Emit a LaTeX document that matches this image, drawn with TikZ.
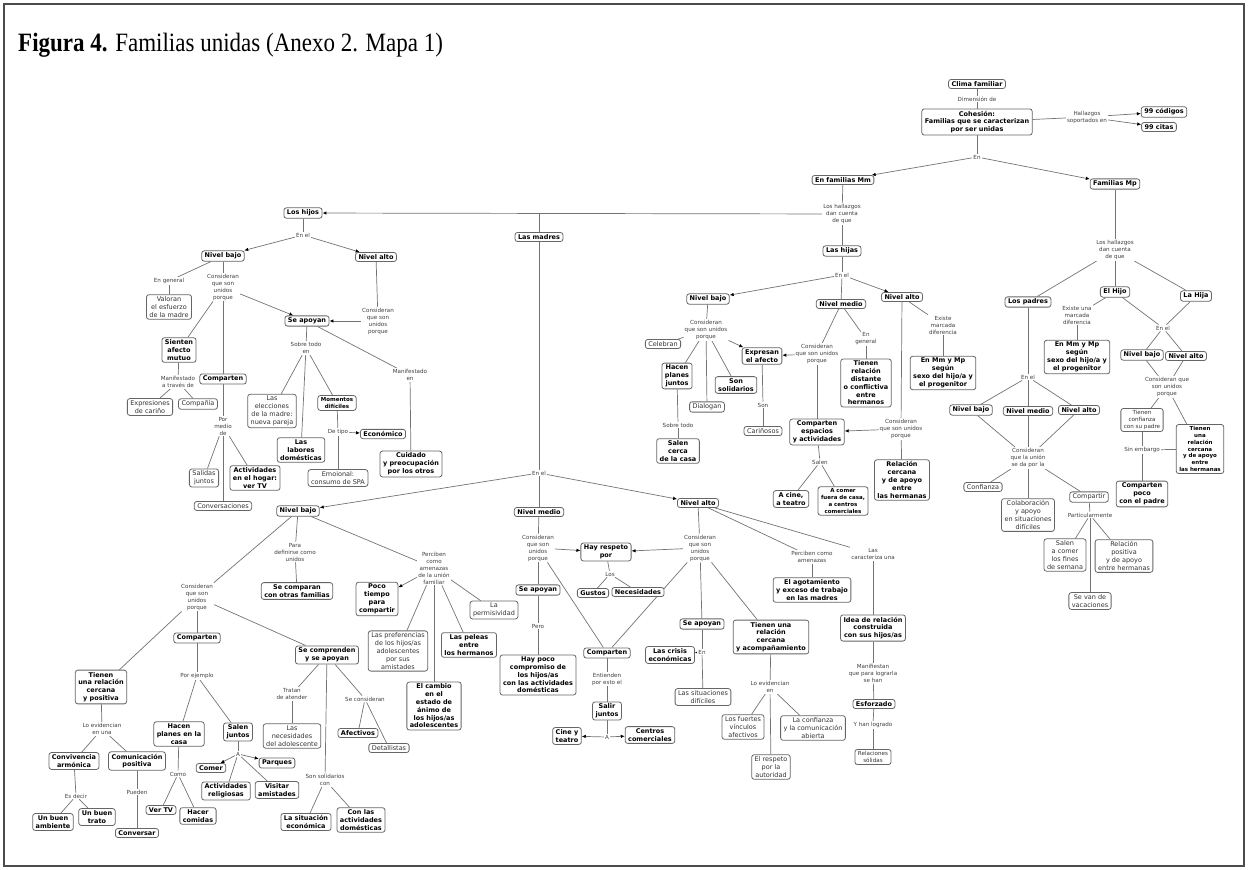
\documentclass[tikz,border=0pt]{standalone}
\usepackage{fontspec}
\setmainfont{DejaVu Sans}
\newfontfamily\titlefont{Liberation Serif}
\usetikzlibrary{arrows.meta,backgrounds}

\tikzset{
  cb/.style={draw=black!60, line width=0.8pt, rounded corners=2.5pt, fill=white, align=center,
    inner xsep=3pt, inner ysep=2pt, font=\fontsize{6.5}{7.8}\selectfont\bfseries},
  cbs/.style={cb, font=\fontsize{5.5}{6.8}\selectfont\bfseries},
  pb/.style={cb, text=black!80, font=\fontsize{6.5}{7.8}\selectfont},
  pbs/.style={pb, font=\fontsize{5.6}{6.8}\selectfont},
  lk/.style={align=center, inner sep=1pt, fill=white, text=black!75, font=\fontsize{5.6}{7}\selectfont},
  ln/.style={draw=black!55, line width=0.7pt},
  ar/.style={ln, -{Latex[length=4pt,width=3.5pt,black]}}
}

\begin{document}
\begin{tikzpicture}[x=1pt,y=-1pt]
\useasboundingbox (0,0) rectangle (1248,870);
\draw[black!70, line width=1.5pt] (4,4) rectangle (1244,866);
\node[anchor=base west, inner sep=0, font=\titlefont\fontsize{23}{26}\selectfont] (titulo) at (18,51)
  {\scalebox{1}[1.15]{\textbf{Figura 4.} Familias unidas (Anexo 2. Mapa 1)}};

\node[cb] (clima) at (977,84) {Clima familiar};
\node[lk] (ldim) at (977,99) {Dimensión de};
\node[cb] (cohesion) at (977,122) {Cohesión:\\Familias que se caracterizan\\por ser unidas};
\node[lk] (lhall) at (1087,117) {Hallazgos\\soportados en};
\node[cb] (codigos) at (1164,112) {99 códigos};
\node[cb] (citas) at (1159,127) {99 citas};
\node[lk] (len) at (977,157) {En};
\node[cb] (famMm) at (843,180) {En familias Mm};
\node[cb] (famMp) at (1115,184) {Familias Mp};

\node[lk] (lmmh) at (842,214) {Los hallazgos\\dan cuenta\\de que};
\coordinate (jmad) at (539,214);
\node[cb] (hijos) at (303,213) {Los hijos};
\node[cb] (madres) at (539,237) {Las madres};
\node[cb] (hijas) at (842,251) {Las hijas};

\node[lk] (lhen) at (303,235) {En el};
\node[cb] (hnb) at (223,256) {Nivel bajo};
\node[cb] (hna) at (376,257) {Nivel alto};
\node[lk] (lgen) at (169,281) {En general};
\node[pb] (valoran) at (169,307) {Valoran\\el esfuerzo\\de la madre};
\node[lk] (lhcons) at (223,287) {Consideran\\que son\\unidos\\porque};
\node[cb] (hapoyan) at (307,321) {Se apoyan};
\node[lk] (lhacons) at (378,321) {Consideran\\que son\\unidos\\porque};
\node[cb] (sienten) at (179,350) {Sienten\\afecto\\mutuo};
\node[lk] (lmanif) at (178,382) {Manifestado\\a través de};
\node[pb] (expres) at (150,407) {Expresiones\\de cariño};
\node[pb] (compania) at (198,404) {Compañía};
\node[cb] (comp1) at (223,379) {Comparten};
\node[lk] (lpormedio) at (223,426) {Por\\medio\\de};
\node[pb] (salidas) at (204,478) {Salidas\\juntos};
\node[cb] (activ) at (255,478) {Actividades\\en el hogar:\\ver TV};
\node[pb] (convers) at (223,506) {Conversaciones};
\node[lk] (lsobre) at (306,348) {Sobre todo\\en};
\node[pb] (elecc) at (272,411) {Las\\elecciones\\de la madre:\\nueva pareja};
\node[cb] (labores) at (301,450) {Las\\labores\\domésticas};
\node[cbs] (momentos) at (337,403) {Momentos\\difíciles};
\node[lk] (ldetipo) at (338,432) {De tipo};
\node[cb] (economico) at (383,434) {Económico};
\node[pb] (emoc) at (338,478) {Emoional:\\consumo de SPA};
\node[lk] (lmanifen) at (410,375) {Manifestado\\en};
\node[cb] (cuidado) at (411,464) {Cuidado\\y preocupación\\por los otros};

\node[lk] (lmen) at (539,473) {En el};
\node[cb] (mnb) at (298,511) {Nivel bajo};
\node[cb] (mnm) at (539,512) {Nivel medio};
\node[cb] (mna) at (698,503) {Nivel alto};

\node[lk] (lpara) at (295,552) {Para\\definirse como\\unidos};
\node[cb] (secomparan) at (297,591) {Se comparan\\con otras familias};
\node[lk] (lperc) at (434,568) {Perciben\\como\\amenazas\\de la unión\\familiar};
\node[cb] (poco) at (377,599) {Poco\\tiempo\\para\\compartir};
\node[pb] (prefer) at (398,651) {Las preferencias\\de los hijos/as\\adolescentes\\por sus\\amistades};
\node[cb] (cambio) at (434,706) {El cambio\\en el\\estado de\\ánimo de\\los hijos/as\\adolescentes};
\node[cb] (peleas) at (469,645) {Las peleas\\entre\\los hermanos};
\node[pb] (permis) at (494,610) {La\\permisividad};
\node[lk] (lmbcons) at (197,597) {Consideran\\que son\\unidos\\porque};
\node[cb] (comp2) at (197,638) {Comparten};
\node[lk] (lporej) at (197,676) {Por ejemplo};
\node[cb] (hacen) at (179,734) {Hacen\\planes en la\\casa};
\node[cb] (salen) at (238,732) {Salen\\juntos};
\node[lk] (lcomo) at (178,774) {Como};
\node[cb] (vertv) at (161,810) {Ver TV};
\node[cb] (hacercom) at (198,816) {Hacer\\comidas};
\node[lk] (la1) at (238,754) {A};
\node[cb] (comer) at (211,768) {Comer};
\node[cb] (parques) at (277,763) {Parques};
\node[cb] (religiosas) at (226,791) {Actividades\\religiosas};
\node[cb] (visitar) at (277,790) {Visitar\\amistades};
\node[cb] (tienen1) at (101,687) {Tienen\\una relación\\cercana\\y positiva};
\node[lk] (levid) at (102,729) {Lo evidencian\\en una};
\node[cb] (conviv) at (74,761) {Convivencia\\armónica};
\node[cb] (comunic) at (137,761) {Comunicación\\positiva};
\node[lk] (lesdecir) at (76,796) {Es decir};
\node[cb] (buenamb) at (53,822) {Un buen\\ambiente};
\node[cb] (buentrato) at (97,817) {Un buen\\trato};
\node[lk] (lpueden) at (137,792) {Pueden};
\node[cb] (conversar) at (137,833) {Conversar};
\node[cb] (secompr) at (327,655) {Se comprenden\\y se apoyan};
\node[lk] (ltratan) at (292,694) {Tratan\\de atender};
\node[pb] (necesid) at (292,736) {Las\\necesidades\\del adolescente};
\node[lk] (lsecons) at (365,699) {Se consideran};
\node[cb] (afectivos) at (358,733) {Afectivos};
\node[pb] (detall) at (389,748) {Detallistas};
\node[lk] (lsolid) at (325,780) {Son solidarios\\con};
\node[cb] (situac) at (306,822) {La situación\\económica};
\node[cb] (conlas) at (361,820) {Con las\\actividades\\domésticas};

\node[lk] (lmmcons) at (538,548) {Consideran\\que son\\unidos\\porque};
\node[cb] (respeto) at (606,552) {Hay respeto\\por};
\node[lk] (llos) at (610,574) {Los};
\node[cb] (gustos) at (593,593) {Gustos};
\node[cb] (necesid2) at (638,592) {Necesidades};
\node[cb] (apoyan2) at (538,590) {Se apoyan};
\node[lk] (lpero) at (538,626) {Pero};
\node[cb] (haypoco) at (538,675) {Hay poco\\compromiso de\\los hijos/as\\con las actividades\\domésticas};
\node[cb] (comp3) at (607,653) {Comparten};
\node[lk] (lentienden) at (607,679) {Entienden\\por esto el};
\node[cb] (salir) at (607,711) {Salir\\juntos};
\node[lk] (la2) at (607,737) {A};
\node[cb] (cine) at (567,736) {Cine y\\teatro};
\node[cb] (centros) at (650,735) {Centros\\comerciales};

\node[lk] (lmacons) at (700,548) {Consideran\\que son\\unidos\\porque};
\node[cb] (apoyan3) at (702,624) {Se apoyan};
\node[lk] (len3) at (702,652) {En};
\node[cb] (crisis) at (670,655) {Las crisis\\económicas};
\node[pb] (situac2) at (703,697) {Las situaciones\\difíciles};
\node[cb] (tienen2) at (771,637) {Tienen una\\relación\\cercana\\y acompañamiento};
\node[lk] (levid2) at (770,687) {Lo evidencian\\en};
\node[pb] (fuertes) at (743,727) {Los fuertes\\vínculos\\afectivos};
\node[pb] (confianza2) at (813,728) {La confianza\\y la comunicación\\abierta};
\node[pb] (respeto2) at (771,767) {El respeto\\por la\\autoridad};
\node[lk] (lperc2) at (812,557) {Perciben como\\amenazas};
\node[cb] (agot) at (812,590) {El agotamiento\\y exceso de trabajo\\en las madres};
\node[lk] (lcaract) at (873,554) {Las\\caracteriza una};
\node[cb] (idea) at (873,628) {Idea de relación\\construida\\con sus hijos/as};
\node[lk] (lmanifiestan) at (873,673) {Manifiestan\\que para lograrla\\se han};
\node[cb] (esforzado) at (874,704) {Esforzado};
\node[lk] (llogrado) at (873,725) {Y han logrado};
\node[pbs] (relaciones) at (873,757) {Relaciones\\sólidas};

\node[lk] (ljen) at (842,275) {En el};
\node[cb] (jnb) at (708,299) {Nivel bajo};
\node[cb] (jnm) at (841,304) {Nivel medio};
\node[cb] (jna) at (902,297) {Nivel alto};
\node[lk] (ljbcons) at (706,330) {Consideran\\que son unidos\\porque};
\node[pb] (celebran) at (663,344) {Celebran};
\node[cb] (expresan) at (762,356) {Expresan\\el afecto};
\node[cb] (hacen2) at (677,376) {Hacen\\planes\\juntos};
\node[pb] (dialogan) at (707,407) {Dialogan};
\node[cb] (solidarios) at (736,385) {Son\\solidarios};
\node[lk] (lsobre2) at (678,425) {Sobre todo};
\node[cb] (salencerca) at (678,451) {Salen\\cerca\\de la casa};
\node[lk] (lson) at (763,405) {Son};
\node[pb] (carinosos) at (763,431) {Cariñosos};
\node[lk] (ljmcons) at (817,354) {Consideran\\que son unidos\\porque};
\node[lk] (lengen) at (866,339) {En\\general};
\node[cb] (tienen3) at (866,383) {Tienen\\relación\\distante\\o conflictiva\\entre\\hermanos};
\node[cb] (compesp) at (817,432) {Comparten\\espacios\\y actividades};
\node[lk] (lsalen) at (820,462) {Salen};
\node[cb] (acine) at (791,499) {A cine,\\a teatro};
\node[cbs] (acomer) at (843,501) {A comer\\fuera de casa,\\a centros\\comerciales};
\node[lk] (ljacons) at (901,429) {Consideran\\que son unidos\\porque};
\node[cb] (relcerc) at (902,480) {Relación\\cercana\\y de apoyo\\entre\\las hermanas};
\node[lk] (lexiste) at (943,325) {Existe\\marcada\\diferencia};
\node[cb] (enmm1) at (943,373) {En Mm y Mp\\según\\sexo del hijo/a y\\el progenitor};

\node[lk] (lmph) at (1115,250) {Los hallazgos\\dan cuenta\\de que};
\node[cb] (padres) at (1028,302) {Los padres};
\node[cb] (hijo) at (1115,292) {El Hijo};
\node[cb] (hija) at (1196,296) {La Hija};
\node[lk] (lexiste2) at (1077,315) {Existe una\\marcada\\diferencia};
\node[cb] (enmm2) at (1077,357) {En Mm y Mp\\según\\sexo del hijo/a y\\el progenitor};
\node[lk] (lhen2) at (1163,328) {En el};
\node[cb] (hjnb) at (1142,355) {Nivel bajo};
\node[cb] (hjna) at (1186,356) {Nivel alto};
\node[lk] (lhcons2) at (1167,387) {Consideran que\\son unidos\\porque};
\node[pbs] (confpadre) at (1142,420) {Tienen\\confianza\\con su padre};
\node[cbs] (tienen4) at (1200,449) {Tienen\\una\\relación\\cercana\\y de apoyo\\entre\\las hermanas};
\node[lk] (lsinemb) at (1142,450) {Sin embargo};
\node[cb] (comppoco) at (1142,494) {Comparten\\poco\\con el padre};
\node[lk] (lpen) at (1028,377) {En el};
\node[cb] (pnb) at (971,410) {Nivel bajo};
\node[cb] (pnm) at (1028,411) {Nivel medio};
\node[cb] (pna) at (1079,410) {Nivel alto};
\node[lk] (lunion) at (1028,458) {Consideran\\que la unión\\se da por la};
\node[pb] (confianza) at (983,487) {Confianza};
\node[pb] (colab) at (1028,515) {Colaboración\\y apoyo\\en situaciones\\difíciles};
\node[pb] (compartir) at (1089,497) {Compartir};
\node[lk] (lpartic) at (1090,515) {Particularmente};
\node[pb] (salencomer) at (1065,555) {Salen\\a comer\\los fines\\de semana};
\node[pb] (relpos) at (1124,556) {Relación\\positiva\\y de apoyo\\entre hermanas};
\node[pb] (vacaciones) at (1090,601) {Se van de\\vacaciones};

\begin{scope}[on background layer]
\foreach \a/\b in {clima/ldim, ldim/cohesion, cohesion/lhall, cohesion/len, famMm/lmmh, jmad/madres, lmmh/hijas,
  hijos/lhen, hnb/lgen, lgen/valoran, hnb/lhcons, lhcons/sienten, lhcons/comp1, hna/lhacons,
  sienten/lmanif, lmanif/expres, lmanif/compania, comp1/lpormedio, lpormedio/salidas, lpormedio/activ,
  lpormedio/convers, hapoyan/lsobre, lsobre/elecc, lsobre/labores, lsobre/momentos, momentos/ldetipo,
  ldetipo/emoc, hapoyan/lmanifen, lmanifen/cuidado, madres/lmen, lmen/mnm,
  mnb/lpara, lpara/secomparan, mnb/lperc, lperc/prefer, lperc/cambio, lperc/peleas, lperc/permis,
  mnb/lmbcons, lmbcons/comp2, lmbcons/tienen1, lmbcons/secompr, comp2/lporej, lporej/hacen, lporej/salen,
  hacen/lcomo, lcomo/vertv, lcomo/hacercom, salen/la1, la1/religiosas, la1/visitar, tienen1/levid,
  levid/conviv, levid/comunic, conviv/lesdecir, lesdecir/buenamb, lesdecir/buentrato, comunic/lpueden,
  lpueden/conversar, secompr/ltratan, ltratan/necesid, secompr/lsecons, lsecons/afectivos, lsecons/detall,
  secompr/lsolid, lsolid/situac, lsolid/conlas,
  mnm/lmmcons, lmmcons/apoyan2, lmmcons/comp3, respeto/llos, llos/gustos, llos/necesid2, apoyan2/lpero,
  lpero/haypoco, comp3/lentienden, lentienden/salir, salir/la2,
  mna/lmacons, lmacons/comp3, lmacons/apoyan3, lmacons/tienen2, apoyan3/len3, len3/situac2, tienen2/levid2,
  levid2/fuertes, levid2/confianza2, levid2/respeto2, mna/lperc2, lperc2/agot, mna/lcaract, lcaract/idea,
  idea/lmanifiestan, lmanifiestan/esforzado, esforzado/llogrado, llogrado/relaciones,
  hijas/ljen, ljen/jnm, jnb/ljbcons, ljbcons/celebran, ljbcons/hacen2, ljbcons/dialogan, ljbcons/solidarios,
  hacen2/lsobre2, lsobre2/salencerca, expresan/lson, lson/carinosos, jnm/ljmcons, ljmcons/compesp,
  jnm/lengen, lengen/tienen3, compesp/lsalen, lsalen/acine, lsalen/acomer, jna/ljacons, ljacons/relcerc,
  jna/lexiste, lexiste/enmm1,
  famMp/lmph, lmph/padres, lmph/hijo, lmph/hija, hijo/lexiste2, lexiste2/enmm2, hijo/lhen2, hija/lhen2,
  lhen2/hjnb, lhen2/hjna, hjnb/lhcons2, hjna/lhcons2, lhcons2/confpadre, lhcons2/tienen4, confpadre/lsinemb,
  lsinemb/comppoco, lsinemb/tienen4, padres/lpen, lpen/pnb, lpen/pnm, lpen/pna, pnb/lunion, pnm/lunion,
  pna/lunion, lunion/confianza, lunion/colab, lunion/compartir, compartir/lpartic, lpartic/salencomer,
  lpartic/relpos, lpartic/vacaciones}
  \draw[ln] (\a) -- (\b);
\foreach \a/\b in {lhall/codigos, lhall/citas, len/famMm, len/famMp, lmmh/hijos, lhen/hnb, lhen/hna,
  lhcons/hapoyan, lhacons/hapoyan, ldetipo/economico, lmen/mnb, lmen/mna, lperc/poco, la1/comer,
  la1/parques, lmmcons/respeto, lmacons/respeto, la2/cine, la2/centros, len3/crisis, ljen/jnb, ljen/jna,
  ljbcons/expresan, ljmcons/expresan, ljacons/compesp}
  \draw[ar] (\a) -- (\b);
\end{scope}
\end{tikzpicture}
\end{document}
